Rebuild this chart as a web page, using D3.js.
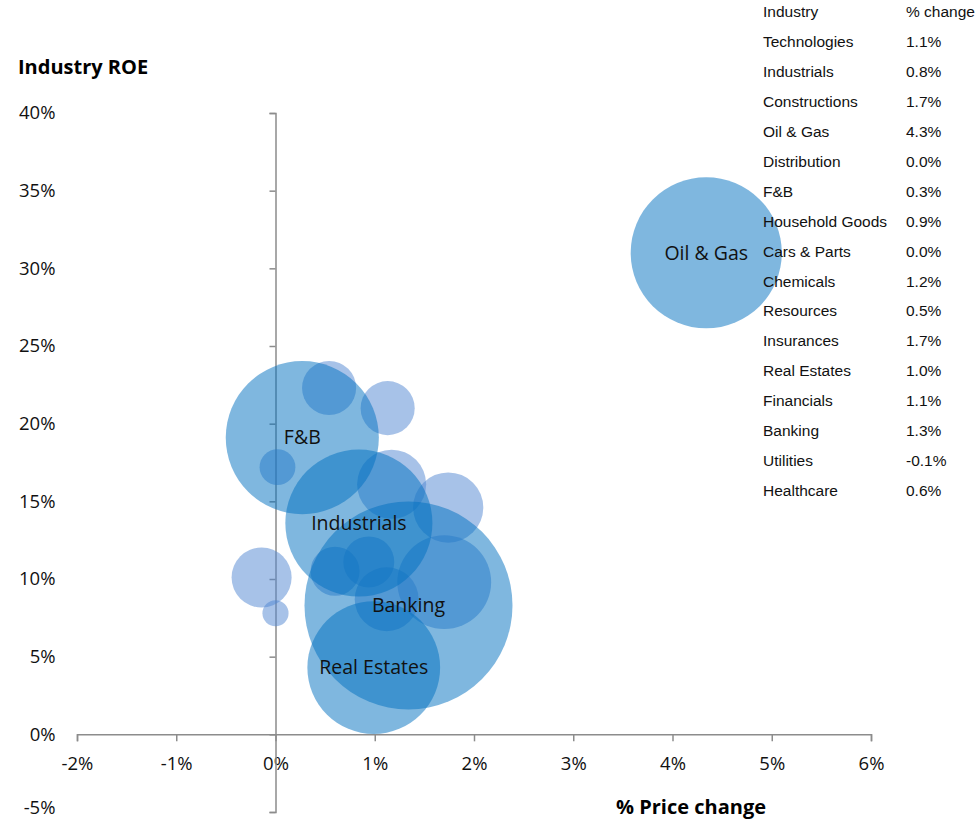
<!DOCTYPE html>
<html>
<head>
<meta charset="utf-8">
<script src="https://cdn.jsdelivr.net/npm/d3@7"></script>
<style>
body { margin: 0; background: #fff; }
.axis path, .axis line { stroke: #8c8c8c; stroke-width: 1.5; }
.axis text { font-family: "Open Sans", sans-serif; font-size: 18.5px; fill: #111; }
</style>
</head>
<body>
<script>
var width = 977;
var height = 823;

// industries, in table order
var industries = ["Technologies", "Industrials", "Constructions", "Oil & Gas", "Distribution",
  "F&B", "Household Goods", "Cars & Parts", "Chemicals", "Resources", "Insurances",
  "Real Estates", "Financials", "Banking", "Utilities", "Healthcare"];
// % price change (x)
var priceChange = [1.13, 0.84, 1.74, 4.34, 0.02, 0.27, 0.94, 0.0, 1.17, 0.54, 1.70, 0.99, 1.12, 1.34, -0.14, 0.6];
// industry ROE % (y)
var roe = [21.0, 13.6, 14.6, 31.0, 17.2, 19.1, 11.1, 7.8, 16.1, 22.3, 9.8, 4.3, 8.7, 8.3, 10.1, 10.5];
// bubble size (relative market weight)
var weight = [7.3, 54, 12.3, 57, 3.2, 58.5, 6.5, 1.7, 11.9, 7.3, 22, 44, 10.2, 108, 9, 6];
// bubbles that carry a label
var labelled = ["Oil & Gas", "F&B", "Industrials", "Banking", "Real Estates"];

var xTicks = [-2, -1, 0, 1, 2, 3, 4, 5, 6];
var yTicks = [-5, 0, 5, 10, 15, 20, 25, 30, 35, 40];

var data = industries.map(function (n, i) {
  return { name: n, x: priceChange[i], y: roe[i], w: weight[i], big: labelled.indexOf(n) >= 0 };
});

var svg = d3.select("body").append("svg")
  .attr("width", width)
  .attr("height", height);

var x = d3.scaleLinear().domain([-2, 6]).range([77, 871]);
var y = d3.scaleLinear().domain([-5, 40]).range([812, 113]);
var r = d3.scaleSqrt().domain([0, 108]).range([0, 104]);

var pct = function (d) { return d + "%"; };

// x axis along ROE = 0
svg.append("g")
  .attr("class", "axis")
  .attr("transform", "translate(0," + y(0) + ")")
  .call(d3.axisBottom(x).tickValues(xTicks).tickFormat(pct).tickSize(7).tickSizeOuter(7).tickPadding(16));

// y axis along price change = 0, labels far left
var yAxis = svg.append("g")
  .attr("class", "axis")
  .attr("transform", "translate(" + x(0) + ",0)")
  .call(d3.axisLeft(y).tickValues(yTicks).tickFormat(pct).tickSize(6).tickSizeOuter(6).tickPadding(214));
// keep the bottom label inside the frame
yAxis.selectAll(".tick text").filter(function (d) { return d === -5; }).attr("dy", "0.1em");

// bubbles: unlabelled first, labelled on top
var sorted = data.slice().sort(function (a, b) { return a.big - b.big; });
svg.selectAll(".bubble")
  .data(sorted)
  .enter().append("circle")
  .attr("class", "bubble")
  .attr("cx", function (d) { return x(d.x); })
  .attr("cy", function (d) { return y(d.y); })
  .attr("r", function (d) { return r(d.w); })
  .style("fill", function (d) { return d.big ? "#0070c0" : "#4f85d1"; })
  .style("fill-opacity", 0.5);

svg.selectAll(".blabel")
  .data(data.filter(function (d) { return d.big; }))
  .enter().append("text")
  .attr("class", "blabel")
  .attr("x", function (d) { return x(d.x); })
  .attr("y", function (d) { return y(d.y); })
  .attr("dy", "0.35em")
  .attr("text-anchor", "middle")
  .style("font-family", "'Open Sans', sans-serif")
  .style("font-size", "19.5px")
  .style("fill", "#111")
  .text(function (d) { return d.name; });

// axis titles
svg.append("text")
  .attr("x", 18).attr("y", 74)
  .style("font-family", "'Open Sans', sans-serif")
  .style("font-weight", "bold")
  .style("font-size", "20px")
  .text("Industry ROE");

svg.append("text")
  .attr("x", 691).attr("y", 814)
  .attr("text-anchor", "middle")
  .style("font-family", "'Open Sans', sans-serif")
  .style("font-weight", "bold")
  .style("font-size", "20px")
  .text("% Price change");

// table
var rowY = d3.scaleLinear().domain([0, 1]).range([12, 41.9]);
var fmt = d3.format(".1f");
var table = svg.append("g")
  .style("font-family", "'Liberation Sans', Arial, sans-serif")
  .style("font-size", "15.5px")
  .style("fill", "#111");

table.append("text").attr("x", 763).attr("y", rowY(0)).attr("dy", "0.35em").text("Industry");
table.append("text").attr("x", 906).attr("y", rowY(0)).attr("dy", "0.35em").text("% change");

table.selectAll(".tname")
  .data(data)
  .enter().append("text")
  .attr("class", "tname")
  .attr("x", 763)
  .attr("y", function (d, i) { return rowY(i + 1); })
  .attr("dy", "0.35em")
  .text(function (d) { return d.name; });

table.selectAll(".tval")
  .data(data)
  .enter().append("text")
  .attr("class", "tval")
  .attr("x", 906)
  .attr("y", function (d, i) { return rowY(i + 1); })
  .attr("dy", "0.35em")
  .text(function (d) { return fmt(d.x).replace("\u2212", "-") + "%"; });
</script>
</body>
</html>
